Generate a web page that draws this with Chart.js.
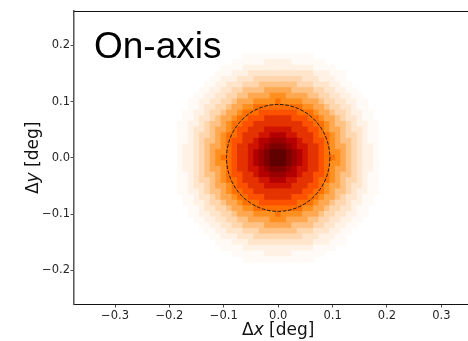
<!DOCTYPE html>
<html>
<head>
<meta charset="utf-8">
<script src="https://cdn.jsdelivr.net/npm/chart.js@4/dist/chart.umd.min.js"></script>
<style>
  html, body { margin: 0; padding: 0; background: #fff; }
  #wrap { width: 468px; height: 341px; }
</style>
</head>
<body>
<div id="wrap"><canvas id="c" width="468" height="341"></canvas></div>
<script>
// ---- data ----
const X_TICKS = [-0.3, -0.2, -0.1, 0.0, 0.1, 0.2, 0.3];
const Y_TICKS = [-0.2, -0.1, 0.0, 0.1, 0.2];
const X_RANGE = [-0.3755, 0.349];
const Y_RANGE = [-0.2596, 0.261];
const CELL = 0.01;              // histogram cell size [deg]
const GRID_X0 = -0.18;          // x of first column
const GRID_Y0 = 0.18;           // y of first row
const CIRCLE_R = 0.095;         // dashed circle radius [deg]
const LABEL = "On-axis";
// density level for each character of the grid rows
const LEVEL_KEYS = "0123456789abcdef";
const LEVELS = [0, 0.01, 0.025, 0.05, 0.08, 0.12, 0.17, 0.22, 0.28, 0.34, 0.40, 0.46, 0.53, 0.60, 0.67, 0.75];
// 2D histogram, rows from +0.18 (top) to -0.18 (bottom), columns -0.18 .. +0.18
const GRID = [
  "0000000000001111111111111000000000000",
  "0000000000111111222221111110000000000",
  "0000000011112222222222222111100000000",
  "0000000111222333333333333222111000000",
  "0000001122233344444444433322211000000",
  "0000011223334445555555444333221100000",
  "0000112233445555666665555443322110000",
  "0001122334455666677766665544332211000",
  "0011223344566677778777766654433221100",
  "0011233445667788888888877665443321100",
  "0112234456678889999999888766544322110",
  "0112334566788999aaaaa9998876654332110",
  "11223455678899aaaaaaaaa99887655432211",
  "1123345667899aaabbbbbaaa9987665433211",
  "112344567889aaabbcccbbaaa988765443211",
  "112345567899aabccdddccbaa998765543211",
  "12234566789aabbcdeeedcbbaa98766543221",
  "12234567789aabcdefffedcbaa98776543221",
  "12234567889aabcdefffedcbaa98876543221",
  "12234567789aabcdefffedcbaa98776543221",
  "12234566789aabbcdeeedcbbaa98766543221",
  "112345567899aabccdddccbaa998765543211",
  "112344567889aaabbcccbbaaa988765443211",
  "1123345667899aaabbbbbaaa9987665433211",
  "11223455678899aaaaaaaaa99887655432211",
  "0112334566788999aaaaa9998876654332110",
  "0112234456678889999999888766544322110",
  "0011233445667788888888877665443321100",
  "0011223344566677778777766654433221100",
  "0001122334455666677766665544332211000",
  "0000112233445555666665555443322110000",
  "0000011223334445555555444333221100000",
  "0000001122233344444444433322211000000",
  "0000000111222333333333333222111000000",
  "0000000011112222222222222111100000000",
  "0000000000111111222221111110000000000",
  "0000000000001111111111111000000000000"
];
</script>
<script>
// build the cell table from the typed grid
const cells = [];
GRID.forEach((row, r) => {
  for (let c = 0; c < row.length; c++) {
    const v = LEVELS[LEVEL_KEYS.indexOf(row[c])];
    if (v > 0) cells.push({ x: GRID_X0 + c * CELL, y: GRID_Y0 - r * CELL, v: v });
  }
});

// gist_heat_r colour map
function heat(v) {
  const x = 1 - v;
  const cl = t => Math.max(0, Math.min(1, t));
  const r = Math.round(255 * cl(1.5 * x));
  const g = Math.round(255 * cl(2 * x - 1));
  const b = Math.round(255 * cl(4 * x - 3));
  return `rgb(${r},${g},${b})`;
}
function fmt(v) {
  const a = Math.abs(v) < 1e-9 ? 0 : v;
  return (a < 0 ? "\u2212" : "") + Math.abs(a).toFixed(1);
}
const TICK_FONT = { family: "'DejaVu Sans'", size: 11.5 };

const decor = {
  id: "decor",
  afterDatasetsDraw(chart) {
    const { ctx, chartArea: a, scales: { x, y } } = chart;
    ctx.save();
    // dashed circle
    const cx = x.getPixelForValue(0), cy = y.getPixelForValue(0);
    const rx = Math.abs(x.getPixelForValue(CIRCLE_R) - cx);
    const ry = Math.abs(y.getPixelForValue(CIRCLE_R) - cy);
    ctx.beginPath();
    ctx.setLineDash([3.7, 1.6]);
    ctx.lineWidth = 1;
    ctx.strokeStyle = "#1a1a1a";
    ctx.ellipse(cx, cy, rx, ry, 0, 0, Math.PI * 2);
    ctx.stroke();
    ctx.setLineDash([]);
    // top spine
    ctx.beginPath();
    ctx.strokeStyle = "#111";
    ctx.lineWidth = 1;
    ctx.moveTo(a.left, a.top + 0.5);
    ctx.lineTo(a.right, a.top + 0.5);
    ctx.stroke();
    // big label
    ctx.fillStyle = "#000";
    ctx.font = "37px 'Liberation Sans'";
    ctx.textBaseline = "alphabetic";
    ctx.textAlign = "left";
    ctx.fillText(LABEL, a.left + 20, a.top + 47);
    // axis titles with italic variable
    const parts = (v) => [["\u0394", "normal"], [v, "italic"], [" [deg]", "normal"]];
    function drawParts(ps, cxp, base) {
      let w = 0;
      ps.forEach(p => { ctx.font = `${p[1]} 17px 'DejaVu Sans'`; w += ctx.measureText(p[0]).width; });
      let xx = cxp - w / 2;
      ps.forEach(p => { ctx.font = `${p[1]} 17px 'DejaVu Sans'`; ctx.fillText(p[0], xx, base); xx += ctx.measureText(p[0]).width; });
    }
    ctx.fillStyle = "#111";
    drawParts(parts("x"), cx, a.bottom + 30.5);
    ctx.translate(a.left - 36.5, cy);
    ctx.rotate(-Math.PI / 2);
    drawParts(parts("y"), 0, 0);
    ctx.restore();
  }
};

new Chart(document.getElementById("c"), {
  type: "scatter",
  data: {
    datasets: [{
      data: cells,
      pointStyle: "rect",
      borderWidth: 0,
      pointRadius: (ctx) => {
        const sx = ctx.chart.scales.x, sy = ctx.chart.scales.y;
        const w = Math.abs(sx.getPixelForValue(CELL) - sx.getPixelForValue(0));
        const h = Math.abs(sy.getPixelForValue(CELL) - sy.getPixelForValue(0));
        return (Math.max(w, h) + 0.7) / Math.SQRT2;
      },
      pointHoverRadius: (ctx) => {
        const sx = ctx.chart.scales.x;
        return (Math.abs(sx.getPixelForValue(CELL) - sx.getPixelForValue(0)) + 0.9) / Math.SQRT2;
      },
      backgroundColor: (ctx) => heat(ctx.raw ? ctx.raw.v : 0)
    }]
  },
  options: {
    responsive: false,
    animation: false,
    events: [],
    layout: { padding: { top: 11, right: 0, left: 0, bottom: 0 } },
    plugins: { legend: { display: false }, tooltip: { enabled: false } },
    scales: {
      x: {
        type: "linear",
        min: X_RANGE[0], max: X_RANGE[1],
        afterBuildTicks: (s) => { s.ticks = X_TICKS.map(v => ({ value: v })); },
        afterFit: (s) => { s.height = 37; },
        ticks: { callback: fmt, font: TICK_FONT, color: "#262626", padding: 1.5, maxRotation: 0, autoSkip: false },
        grid: { display: true, drawOnChartArea: false, drawTicks: true, tickLength: 3.5, tickColor: "#222", tickWidth: 0.8 },
        border: { display: true, color: "#111", width: 1 }
      },
      y: {
        type: "linear",
        min: Y_RANGE[0], max: Y_RANGE[1],
        afterBuildTicks: (s) => { s.ticks = Y_TICKS.map(v => ({ value: v })); },
        afterFit: (s) => { s.width = 74; },
        ticks: { callback: fmt, font: TICK_FONT, color: "#262626", padding: 0.5, autoSkip: false },
        grid: { display: true, drawOnChartArea: false, drawTicks: true, tickLength: 3.5, tickColor: "#222", tickWidth: 0.8 },
        border: { display: true, color: "#555", width: 1.5 }
      }
    }
  },
  plugins: [decor]
});
</script>
</body>
</html>
